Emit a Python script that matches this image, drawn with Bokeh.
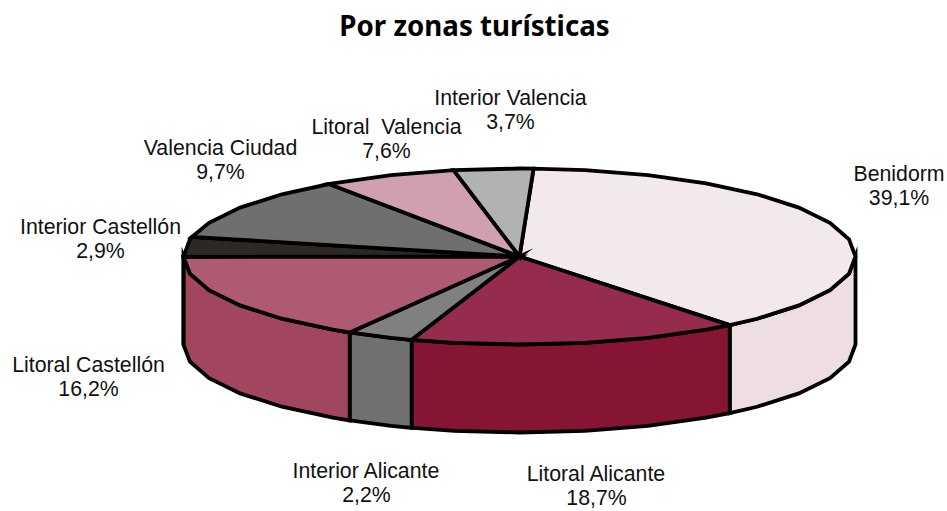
import numpy as np
from bokeh.plotting import figure
from bokeh.embed import file_html
from bokeh.resources import INLINE
from bokeh.core.properties import value

names = ["Benidorm", "Litoral Alicante", "Interior Alicante", "Litoral Castellón",
         "Interior Castellón", "Valencia Ciudad", "Litoral\u00a0 Valencia", "Interior Valencia"]
shares = [39.1, 18.7, 2.2, 16.2, 2.9, 9.7, 7.6, 3.7]
pct_labels = ["39,1%", "18,7%", "2,2%", "16,2%", "2,9%", "9,7%", "7,6%", "3,7%"]
# the source's 3D projection distorts the sweep of each slice
sweep_factor = [0.987, 0.854, 1.47, 1.02, 1.25, 1.22, 0.85, 1.03]
top_colors = ["#F3E8ED", "#952C4D", "#808080", "#AE5A72", "#2D2824", "#6F6F6D", "#D0A0B0", "#B2B2B2"]
side_colors = ["#EEDDE3", "#861433", "#707070", "#A2455F", "#2D2824", "#6F6F6D", "#D0A0B0", "#B2B2B2"]
label_x = [898.5, 596, 366, 88, 100, 220, 386, 510]
label_y = [173, 473, 470, 364, 226, 147, 126, 97]
title = "Por zonas turísticas"

CX, CY, RX, RY, DEPTH = 519, 256, 336, 88, 88
START = 87.6
STEP = 11.25

p = figure(width=947, height=511, x_range=(0, 947), y_range=(511, 0),
           output_backend="svg", toolbar_location=None, min_border=0,
           x_axis_type="linear", outline_line_color=None)
p.axis.visible = False
p.grid.visible = False


def arc(a0, a1):
    """Polygonal rim from angle a0 down to a1 (degrees), vertices on a fixed grid."""
    k0 = np.floor(a0 / STEP)
    k1 = np.ceil(a1 / STEP)
    grid = [k * STEP for k in np.arange(k0, k1 - 1, -1) if a1 < k * STEP < a0]
    ang = np.radians([a0] + grid + [a1])
    return CX + RX * np.cos(ang), CY - RY * np.sin(ang)


sweeps = np.array(shares) * 3.6 * np.array(sweep_factor)
sweeps = sweeps * 360 / sweeps.sum()
ends = START - np.cumsum(sweeps)
starts = ends + sweeps

# rim walls: only the part of the rim on the front (angles below 0)
wx, wy, wc = [], [], []
for a0, a1, c in zip(starts, ends, side_colors):
    hi, lo = min(a0, 0.0), max(a1, -180.0)
    if hi <= lo:
        continue
    x, y = arc(hi, lo)
    wx.append(list(x) + list(x[::-1]))
    wy.append(list(y) + list((y + DEPTH)[::-1]))
    wc.append(c)
p.patches(wx, wy, fill_color=wc, line_color="black", line_width=3.8, line_join="miter")

# top faces
tx, ty = [], []
for a0, a1 in zip(starts, ends):
    x, y = arc(a0, a1)
    tx.append([CX] + list(x))
    ty.append([CY] + list(y))
p.patches(tx, ty, fill_color=top_colors, line_color="black", line_width=3.8, line_join="miter")

font = value("Liberation Sans")
p.text(label_x, label_y, text=names, text_font=font, text_font_size="21.3px",
       text_align="center", text_baseline="middle", text_color="#111111")
p.text(label_x, [y + 24 for y in label_y], text=pct_labels, text_font=font, text_font_size="21.3px",
       text_align="center", text_baseline="middle", text_color="#111111")
p.text([474], [24], text=[title], text_font=value("Noto Sans"), text_font_style="bold",
       text_font_size="27.7px", text_align="center", text_baseline="middle", text_color="black")

open("out.html", "w").write(file_html(p, INLINE))
